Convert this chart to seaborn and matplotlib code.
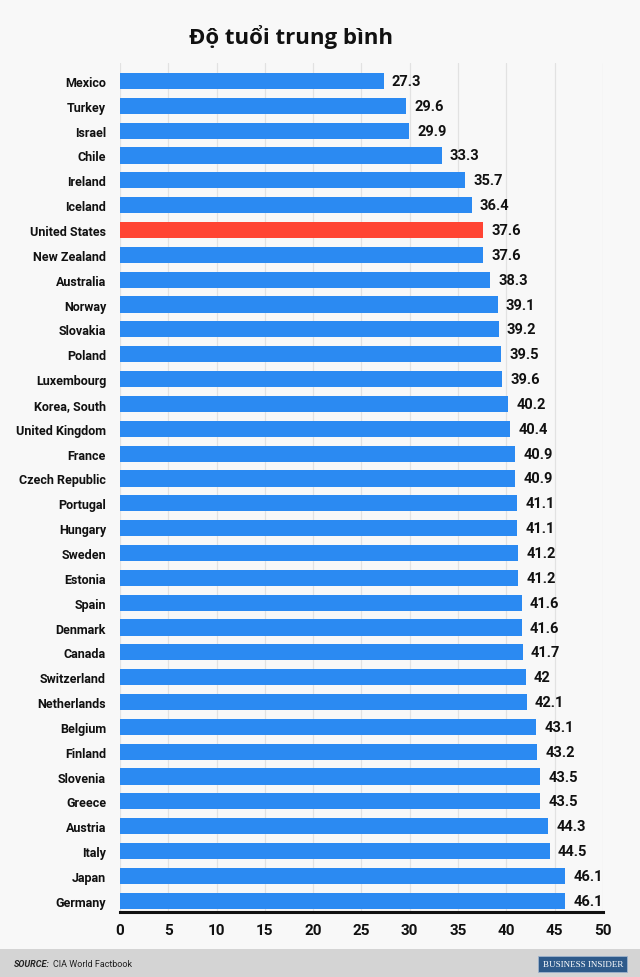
import matplotlib
matplotlib.use('Agg')
import matplotlib.pyplot as plt
import seaborn as sns
from matplotlib.patches import Rectangle

countries = ['Mexico', 'Turkey', 'Israel', 'Chile', 'Ireland', 'Iceland', 'United States',
             'New Zealand', 'Australia', 'Norway', 'Slovakia', 'Poland', 'Luxembourg',
             'Korea, South', 'United Kingdom', 'France', 'Czech Republic', 'Portugal',
             'Hungary', 'Sweden', 'Estonia', 'Spain', 'Denmark', 'Canada', 'Switzerland',
             'Netherlands', 'Belgium', 'Finland', 'Slovenia', 'Greece', 'Austria', 'Italy',
             'Japan', 'Germany']
median_age = [27.3, 29.6, 29.9, 33.3, 35.7, 36.4, 37.6,
              37.6, 38.3, 39.1, 39.2, 39.5, 39.6,
              40.2, 40.4, 40.9, 40.9, 41.1,
              41.1, 41.2, 41.2, 41.6, 41.6, 41.7, 42,
              42.1, 43.1, 43.2, 43.5, 43.5, 44.3, 44.5,
              46.1, 46.1]
highlight = 'United States'
x_ticks = [0, 5, 10, 15, 20, 25, 30, 35, 40, 45, 50]

sns.set_style('white')
plt.rcParams['font.family'] = ['Roboto', 'DejaVu Sans']

fig = plt.figure(figsize=(6.4, 9.78), dpi=100)
fig.patch.set_facecolor('#f8f8f8')
ax = fig.add_axes([0.1875, 0.0665, 0.7545, 0.868])
ax.set_facecolor('#f8f8f8')

colors = ['#ff4433' if c == highlight else '#2b8af2' for c in countries]
sns.barplot(x=median_age, y=countries, hue=countries, palette=colors, legend=False,
            orient='h', width=0.65, saturation=1, ax=ax, edgecolor='none')

for cont in ax.containers:
    ax.bar_label(cont, fmt='{:g}', padding=6, fontsize=10.5, fontweight='bold', color='#111111')

ax.set_xlim(0, 50)
ax.set_ylim(33.45, -0.72)
ax.set_xticks(x_ticks)
ax.set_xticklabels([str(t) for t in x_ticks], fontsize=11, fontweight='bold', color='#111111')
ax.tick_params(axis='y', length=0, pad=10, labelsize=9)
ax.tick_params(axis='x', length=0, pad=8)
for lab in ax.get_yticklabels():
    lab.set_fontweight('bold')
    lab.set_color('#111111')
ax.set_xlabel('')
ax.set_ylabel('')
ax.set_axisbelow(True)
ax.grid(axis='x', color='#e2e2e2', linewidth=0.9)
for s in ['top', 'right', 'left']:
    ax.spines[s].set_visible(False)
ax.spines['bottom'].set_color('#111111')
ax.spines['bottom'].set_linewidth(2.2)

fig.text(0.455, 0.962, 'Độ tuổi trung bình', ha='center', va='center', fontsize=16,
         fontweight='bold', family=['Open Sans', 'DejaVu Sans'], color='#111111')

# footer strip
fig.patches.append(Rectangle((0, 0), 1, 0.029, transform=fig.transFigure,
                             facecolor='#d4d4d4', edgecolor='none', zorder=0))
src = fig.text(0.022, 0.0135, 'SOURCE:', fontsize=6.5, fontweight='bold', style='italic',
               va='center', color='#222222')
renderer = fig.canvas.get_renderer()
bb = src.get_window_extent(renderer).transformed(fig.transFigure.inverted())
fig.text(bb.x1 + 0.005, 0.0135, 'CIA World Factbook', fontsize=6.5, va='center', color='#222222')
fig.patches.append(Rectangle((0.841, 0.0055), 0.139, 0.016, transform=fig.transFigure,
                             facecolor='#2e5a8a', edgecolor='#9fb3cc', linewidth=0.6, zorder=1))
fig.text(0.9105, 0.0135, 'BUSINESS INSIDER', fontsize=6.5, family=['Liberation Serif', 'DejaVu Serif'],
         ha='center', va='center', color='white', zorder=2)

fig.savefig('out.png', dpi=100, facecolor=fig.get_facecolor())
